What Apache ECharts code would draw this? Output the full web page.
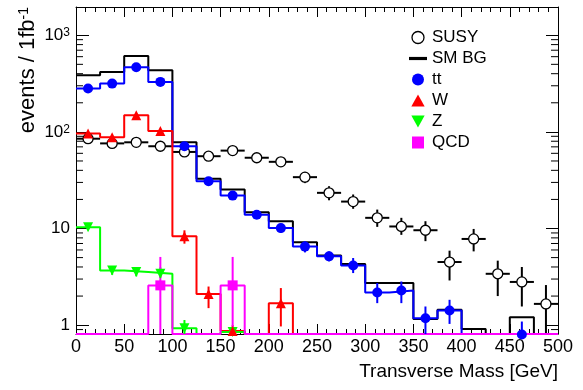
<!DOCTYPE html>
<html>
<head>
<meta charset="utf-8">
<script src="https://cdn.jsdelivr.net/npm/echarts@6/dist/echarts.min.js"></script>
<style>
  html, body { margin: 0; padding: 0; background: #fff; }
  #chart { width: 583px; height: 390px; }
</style>
</head>
<body>
<div id="chart"></div>
<script>
// Transverse mass distributions, 25 GeV bins from 0 to 500 GeV (events / 1 fb^-1)
const binLow = [0, 25, 50, 75, 100, 125, 150, 175, 200, 225, 250, 275, 300, 325, 350, 375, 400, 425, 450, 475];
const binWidth = 25;

// SUSY signal (open circles) with lower / upper error edges
const susy   = [85, 76, 78, 71, 62, 56, 64, 54, 49, 34, 23.4, 19.0, 12.9, 10.5, 9.6, 4.5, 7.8, 3.4, 2.8, 1.66];
const susyLo = [80, 71, 73, 66, 57, 51, 59, 49, 44, 29.5, 19.6, 16.0, 10.4, 8.6, 7.4, 2.9, 5.8, 2.0, 1.56, 0.5];
const susyHi = [90, 81, 83, 76, 67, 61, 69, 59, 54, 38.5, 27.4, 22.5, 15.7, 12.9, 11.9, 5.9, 9.9, 4.65, 4.0, 2.6];

// Total Standard Model background
const smbg = [385, 417, 611, 435, 78, 32.7, 25.3, 14.7, 11.9, 7.2, 5.27, 4.29, 2.73, 2.73, 1.16, 1.44, 0.91, 0, 1.21, 0];

// ttbar
const tt   = [281, 316, 467, 329, 71, 30.9, 21.9, 13.9, 10.1, 6.5, 5.15, 4.15, 2.18, 2.28, 1.18, 1.42, 0, 0, 0.8, 0];
const ttLo = [273, 307, 455, 319, 68, 28.8, 20.0, 12.6, 9.0, 5.66, 4.57, 3.46, 1.69, 1.69, 0.5, 1.03, 0, 0, 0.5, 0];
const ttHi = [289, 325, 479, 339, 74, 33.0, 23.8, 15.2, 11.2, 7.37, 5.8, 4.95, 2.73, 2.83, 1.56, 1.83, 0, 0, 1.09, 0];

// W + jets
const wj   = [96, 88, 149, 102, 8.3, 2.1, 0.87, 0, 1.69, 0, 0, 0, 0, 0, 0, 0, 0, 0, 0, 0];
const wjLo = [92, 84, 143, 97, 6.97, 1.50, 0.5, 0, 0.97, 0, 0, 0, 0, 0, 0, 0, 0, 0, 0, 0];
const wjHi = [100, 92, 155, 107, 9.58, 2.51, 1.0, 0, 2.42, 0, 0, 0, 0, 0, 0, 0, 0, 0, 0, 0];

// Z + jets
const zj   = [10.3, 3.68, 3.55, 3.41, 0.93, 0, 0.85, 0, 0, 0, 0, 0, 0, 0, 0, 0, 0, 0, 0, 0];
const zjLo = [9.8, 3.32, 3.2, 3.07, 0.5, 0, 0.5, 0, 0, 0, 0, 0, 0, 0, 0, 0, 0, 0, 0, 0];
const zjHi = [10.8, 4.06, 3.9, 3.96, 1.13, 0, 0.95, 0, 0, 0, 0, 0, 0, 0, 0, 0, 0, 0, 0, 0];

// QCD multijet
const qcd   = [0, 0, 0, 2.58, 0, 0, 2.58, 0, 0, 0, 0, 0, 0, 0, 0, 0, 0, 0, 0, 0];
const qcdLo = [0, 0, 0, 0.5, 0, 0, 0.5, 0, 0, 0, 0, 0, 0, 0, 0, 0, 0, 0, 0, 0];
const qcdHi = [0, 0, 0, 5.08, 0, 0, 5.08, 0, 0, 0, 0, 0, 0, 0, 0, 0, 0, 0, 0, 0];

// Axis ranges and labels
const X_MIN = 0, X_MAX = 500;
const Y_MIN = 0.81, Y_MAX = 1960;
const yTickLabels = { 0: '1', 1: '10', 2: '10{sup|2}', 3: '10{sup|3}' };
const xTitle = 'Transverse Mass [GeV]';
const yTitle = 'events / 1fb{sup|-1}';

const FONT = 'Liberation Sans, Arial, Helvetica, sans-serif';
const COL = { susy: '#000000', sm: '#000000', tt: '#0000ff', w: '#ff0000', z: '#00ff00', qcd: '#ff00ff' };

// Step outline through bin edges; empty bins sit on the lower frame like a clamped histogram
function histPoints(vals) {
  const pts = vals.map((v, i) => [binLow[i], Math.max(v, Y_MIN)]);
  pts.push([X_MAX, Math.max(vals[vals.length - 1], Y_MIN)]);
  return pts;
}
function markerPoints(vals) {
  const pts = [];
  vals.forEach((v, i) => { if (v > 0) pts.push([binLow[i] + binWidth / 2, v]); });
  return pts;
}
function errPoints(vals, lo, hi) {
  const pts = [];
  vals.forEach((v, i) => { if (v > 0) pts.push([binLow[i] + binWidth / 2, lo[i], hi[i], v]); });
  return pts;
}
function errRender(color, withBinBar) {
  return function (params, api) {
    const xc = api.value(0);
    const lo = Math.max(api.value(1), Y_MIN);
    const hi = Math.min(api.value(2), Y_MAX);
    const v = api.value(3);
    const a = api.coord([xc, lo]);
    const b = api.coord([xc, hi]);
    const children = [{
      type: 'line', shape: { x1: a[0], y1: a[1], x2: b[0], y2: b[1] },
      style: { stroke: color, lineWidth: 2 }
    }];
    if (withBinBar) {
      const l = api.coord([xc - binWidth / 2, v]);
      const r = api.coord([xc + binWidth / 2, v]);
      children.push({
        type: 'line', shape: { x1: l[0], y1: l[1], x2: r[0], y2: r[1] },
        style: { stroke: color, lineWidth: 2 }
      });
    }
    return { type: 'group', children };
  };
}

// Minor tick positions of the logarithmic axis (2..9 per decade)
const minorY = [0.9];
for (let d = 1; d <= 100; d *= 10) for (let k = 2; k <= 9; k++) minorY.push(k * d);

function histSeries(name, vals, color, z) {
  return {
    name, type: 'line', data: histPoints(vals), step: 'end', symbol: 'none',
    lineStyle: { color, width: 2 }, itemStyle: { color }, z, clip: true, silent: true, animation: false
  };
}
function errSeries(name, vals, lo, hi, color, bin, z) {
  return {
    name, type: 'custom', data: errPoints(vals, lo, hi), renderItem: errRender(color, bin),
    encode: { x: 0, y: [1, 2] }, z, silent: true, animation: false
  };
}

const chart = echarts.init(document.getElementById('chart'), null, { renderer: 'canvas' });

const axisText = { color: '#000', fontFamily: FONT, fontSize: 18 };

chart.setOption({
  backgroundColor: '#fff',
  animation: false,
  textStyle: { fontFamily: FONT },
  grid: { left: 76, right: 25, top: 7, bottom: 56, containLabel: false },
  xAxis: [{
    type: 'value', min: X_MIN, max: X_MAX, interval: 50, position: 'bottom',
    axisLine: { show: true, onZero: false, lineStyle: { color: '#000', width: 1 } },
    axisTick: { show: true, inside: true, length: 10, lineStyle: { color: '#000' } },
    minorTick: { show: true, splitNumber: 5, length: 5, lineStyle: { color: '#000' } },
    axisLabel: { ...axisText, margin: 4 },
    splitLine: { show: false },
    name: xTitle, nameLocation: 'end', nameGap: 0,
    nameTextStyle: { ...axisText, fontSize: 19, align: 'right', verticalAlign: 'top', padding: [28, 0, 0, 0] }
  }, {
    type: 'value', min: X_MIN, max: X_MAX, interval: 50, position: 'top',
    axisLine: { show: true, onZero: false, lineStyle: { color: '#000', width: 1 } },
    axisTick: { show: true, inside: true, length: 10, lineStyle: { color: '#000' } },
    minorTick: { show: true, splitNumber: 5, length: 5, lineStyle: { color: '#000' } },
    axisLabel: { show: false }, splitLine: { show: false }
  }],
  yAxis: [{
    type: 'log', logBase: 10, min: Y_MIN, max: Y_MAX, splitNumber: 3, position: 'left',
    axisLine: { show: true, onZero: false, lineStyle: { color: '#000', width: 1 } },
    axisTick: { show: true, inside: true, length: 13, lineStyle: { color: '#000' } },
    axisLabel: {
      ...axisText, fontSize: 17, margin: 6,
      formatter: (v) => {
        const e = Math.log10(v), k = Math.round(e);
        return Math.abs(e - k) < 1e-6 && yTickLabels[k] !== undefined ? yTickLabels[k] : '';
      },
      rich: {
        sup: { fontFamily: FONT, fontSize: 12, color: '#000', verticalAlign: 'top', lineHeight: 10 }
      }
    },
    splitLine: { show: false }
  }, {
    type: 'log', logBase: 10, min: Y_MIN, max: Y_MAX, splitNumber: 3, position: 'right',
    axisLine: { show: true, onZero: false, lineStyle: { color: '#000', width: 1 } },
    axisTick: { show: true, inside: true, length: 12, lineStyle: { color: '#000' } },
    axisLabel: { show: false }, splitLine: { show: false }
  }],
  legend: {
    orient: 'vertical', left: 404, top: 24, itemWidth: 18, itemHeight: 12, itemGap: 4,
    selectedMode: false,
    textStyle: { color: '#000', fontFamily: FONT, fontSize: 17 },
    data: [
      { name: 'SUSY', icon: 'circle', itemStyle: { color: '#fff', borderColor: '#000', borderWidth: 1.3 } },
      { name: 'SM BG', icon: 'path://M0,0L17,0L17,3L0,3Z', itemStyle: { color: '#000', borderWidth: 0 } },
      { name: 'tt', icon: 'circle', itemStyle: { color: COL.tt, borderWidth: 0 } },
      { name: 'W', icon: 'path://M5,0L10,9L0,9Z', itemStyle: { color: COL.w, borderWidth: 0 } },
      { name: 'Z', icon: 'path://M0,0L10,0L5,9Z', itemStyle: { color: COL.z, borderWidth: 0 } },
      { name: 'QCD', icon: 'path://M0,0L10,0L10,10L0,10Z', itemStyle: { color: COL.qcd, borderWidth: 0 } }
    ]
  },
  graphic: [{
    type: 'text', x: 28, y: 7, rotation: Math.PI / 2,
    style: {
      text: yTitle, align: 'right', verticalAlign: 'middle',
      fontFamily: FONT, fontSize: 22, fill: '#000',
      rich: { sup: { fontFamily: FONT, fontSize: 14, fill: '#000', verticalAlign: 'top', lineHeight: 12 } }
    }
  }],
  series: [
    {
      name: 'minor ticks', type: 'custom', data: minorY.map(v => [X_MIN, v]), z: 1, silent: true,
      encode: { x: 0, y: 1 },
      renderItem: (params, api) => {
        const v = api.value(1);
        const l = api.coord([X_MIN, v]);
        const r = api.coord([X_MAX, v]);
        return {
          type: 'group', children: [
            { type: 'line', shape: { x1: l[0], y1: l[1], x2: l[0] + 7, y2: l[1] }, style: { stroke: '#000', lineWidth: 1 } },
            { type: 'line', shape: { x1: r[0] - 7, y1: r[1], x2: r[0], y2: r[1] }, style: { stroke: '#000', lineWidth: 1 } }
          ]
        };
      }
    },
    errSeries('SUSY err', susy, susyLo, susyHi, COL.susy, true, 2),
    histSeries('SM BG', smbg, COL.sm, 3),
    histSeries('tt hist', tt, COL.tt, 3),
    histSeries('W hist', wj, COL.w, 3),
    histSeries('Z hist', zj, COL.z, 3),
    histSeries('QCD hist', qcd, COL.qcd, 3),
    {
      name: 'SUSY', type: 'scatter', data: markerPoints(susy), symbol: 'circle', symbolSize: 10,
      itemStyle: { color: '#fff', borderColor: '#000', borderWidth: 1.3, opacity: 1 }, z: 4, clip: false, silent: true
    },
    errSeries('tt err', tt, ttLo, ttHi, COL.tt, false, 5),
    errSeries('Z err', zj, zjLo, zjHi, COL.z, false, 5),
    errSeries('W err', wj, wjLo, wjHi, COL.w, false, 5),
    errSeries('QCD err', qcd, qcdLo, qcdHi, COL.qcd, false, 5),
    {
      name: 'tt', type: 'scatter', data: markerPoints(tt), symbol: 'circle', symbolSize: 10,
      itemStyle: { color: COL.tt, opacity: 1 }, z: 6, clip: false, silent: true
    },
    {
      name: 'Z', type: 'scatter', data: markerPoints(zj), symbol: 'triangle', symbolRotate: 180, symbolSize: 10,
      itemStyle: { color: COL.z, opacity: 1 }, z: 6, clip: false, silent: true
    },
    {
      name: 'W', type: 'scatter', data: markerPoints(wj), symbol: 'triangle', symbolSize: 10,
      itemStyle: { color: COL.w, opacity: 1 }, z: 6, clip: false, silent: true
    },
    {
      name: 'QCD', type: 'scatter', data: markerPoints(qcd), symbol: 'rect', symbolSize: 10,
      itemStyle: { color: COL.qcd, opacity: 1 }, z: 6, clip: false, silent: true
    }
  ]
});
</script>
</body>
</html>
